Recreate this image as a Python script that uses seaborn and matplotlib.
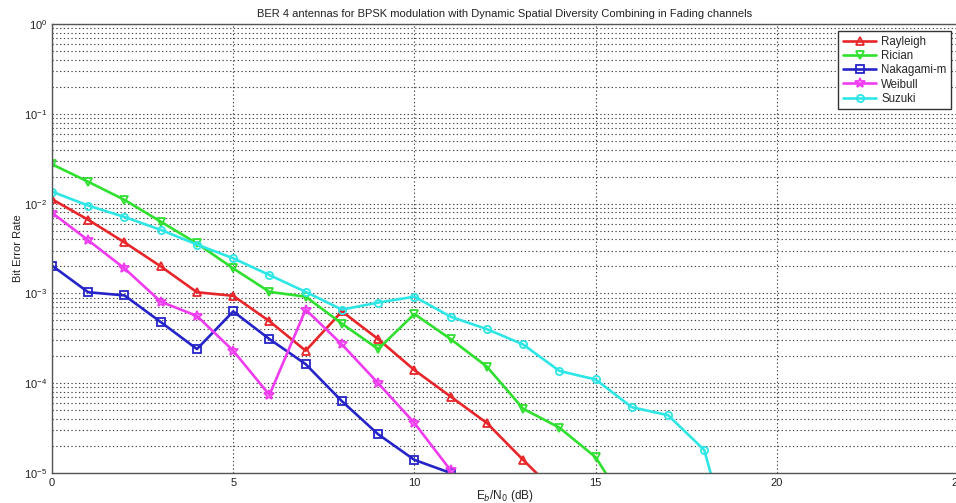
import numpy as np
import pandas as pd
import matplotlib
matplotlib.use("Agg")
import matplotlib.pyplot as plt
import seaborn as sns
from matplotlib.ticker import LogLocator, FixedLocator

# Eb/N0 grid (dB) and bit error rate per fading channel
snr_rayleigh = [0, 1, 2, 3, 4, 5, 6, 7, 8, 9, 10, 11, 12, 13, 14]
ber_rayleigh = [1.12e-2, 6.6e-3, 3.7e-3, 2.0e-3, 1.03e-3, 9.4e-4, 4.9e-4, 2.3e-4,
                6.3e-4, 3.1e-4, 1.4e-4, 7.1e-5, 3.6e-5, 1.4e-5, 5.6e-6]

snr_rician = [0, 1, 2, 3, 4, 5, 6, 7, 8, 9, 10, 11, 12, 13, 14, 15, 16]
ber_rician = [2.74e-2, 1.75e-2, 1.1e-2, 6.3e-3, 3.6e-3, 1.9e-3, 1.04e-3, 9.2e-4,
              4.6e-4, 2.4e-4, 5.9e-4, 3.1e-4, 1.53e-4, 5.2e-5, 3.2e-5, 1.5e-5, 3.5e-6]

snr_nakagami = [0, 1, 2, 3, 4, 5, 6, 7, 8, 9, 10, 11]
ber_nakagami = [2.04e-3, 1.03e-3, 9.5e-4, 4.8e-4, 2.4e-4, 6.3e-4, 3.1e-4, 1.63e-4,
                6.3e-5, 2.7e-5, 1.4e-5, 1.0e-5]

snr_weibull = [0, 1, 2, 3, 4, 5, 6, 7, 8, 9, 10, 11]
ber_weibull = [7.9e-3, 3.9e-3, 1.9e-3, 8.1e-4, 5.6e-4, 2.3e-4, 7.4e-5, 6.6e-4,
               2.7e-4, 1.0e-4, 3.6e-5, 1.07e-5]

snr_suzuki = [0, 1, 2, 3, 4, 5, 6, 7, 8, 9, 10, 11, 12, 13, 14, 15, 16, 17, 18, 19]
ber_suzuki = [1.36e-2, 9.5e-3, 7.1e-3, 5.1e-3, 3.5e-3, 2.46e-3, 1.6e-3, 1.04e-3,
              6.6e-4, 7.9e-4, 9.2e-4, 5.5e-4, 4.0e-4, 2.7e-4, 1.37e-4, 1.1e-4,
              5.4e-5, 4.4e-5, 1.8e-5, 6.0e-7]

channels = ["Rayleigh", "Rician", "Nakagami-m", "Weibull", "Suzuki"]
x_ticks = [0, 5, 10, 15, 20, 25]

series = [
    (snr_rayleigh, ber_rayleigh, "#e8262a", "^"),
    (snr_rician, ber_rician, "#2fe02f", "v"),
    (snr_nakagami, ber_nakagami, "#2424c8", "s"),
    (snr_weibull, ber_weibull, "#f03cf0", "*"),
    (snr_suzuki, ber_suzuki, "#2ee6e6", "o"),
]

sns.set_style("white")
plt.rcParams["font.family"] = ["Liberation Sans", "DejaVu Sans"]

fig = plt.figure(figsize=(9.56, 5.03), dpi=100)
ax = fig.add_axes([52 / 956, 1 - 473 / 503, (958 - 52) / 956, (473 - 24) / 503])

for name, (xs, ys, col, mk) in zip(channels, series):
    df = pd.DataFrame({"snr": xs, "ber": ys})
    sns.lineplot(data=df, x="snr", y="ber", ax=ax, color=col, marker=mk,
                 markersize=7 if mk == "*" else 5.2, markerfacecolor="none",
                 markeredgecolor=col, markeredgewidth=1.3, linewidth=1.9,
                 label=name, clip_on=True)

ax.set_yscale("log")
ax.set_xlim(0, 25)
ax.set_ylim(1e-5, 1e0)
ax.xaxis.set_major_locator(FixedLocator(x_ticks))
ax.yaxis.set_major_locator(LogLocator(base=10, numticks=10))
ax.yaxis.set_minor_locator(LogLocator(base=10, subs=np.arange(2, 10), numticks=10))

ax.grid(True, which="major", axis="x", color="#444444", linestyle=(0, (1.2, 2.2)), linewidth=0.8)
ax.grid(True, which="both", axis="y", color="#444444", linestyle=(0, (1.2, 2.2)), linewidth=0.8)

ax.tick_params(axis="both", which="both", direction="in", labelsize=8, colors="#222222")
ax.tick_params(axis="both", which="major", length=4)
ax.tick_params(axis="y", which="minor", length=2, labelleft=False)
for sp in ax.spines.values():
    sp.set_color("#555555")
    sp.set_linewidth(1.0)

ax.set_title("BER 4 antennas for BPSK modulation with Dynamic Spatial Diversity Combining in Fading channels",
             fontsize=8, color="#222222", pad=5)
ax.set_xlabel("E$_b$/N$_0$ (dB)", fontsize=8.5, color="#222222", labelpad=0)
ax.set_ylabel("Bit Error Rate", fontsize=8, color="#222222", labelpad=1)

leg = ax.legend(loc="upper right", bbox_to_anchor=(951 / 956, 1 - 31 / 503),
                bbox_transform=fig.transFigure, borderaxespad=0,
                fontsize=8.3, frameon=True, fancybox=False, handlelength=2.9,
                borderpad=0.4, labelspacing=0.2, handletextpad=0.4)
leg.get_frame().set_edgecolor("#333333")
leg.get_frame().set_linewidth(1.0)
leg.get_frame().set_alpha(1.0)

fig.savefig("out.png", dpi=100)
